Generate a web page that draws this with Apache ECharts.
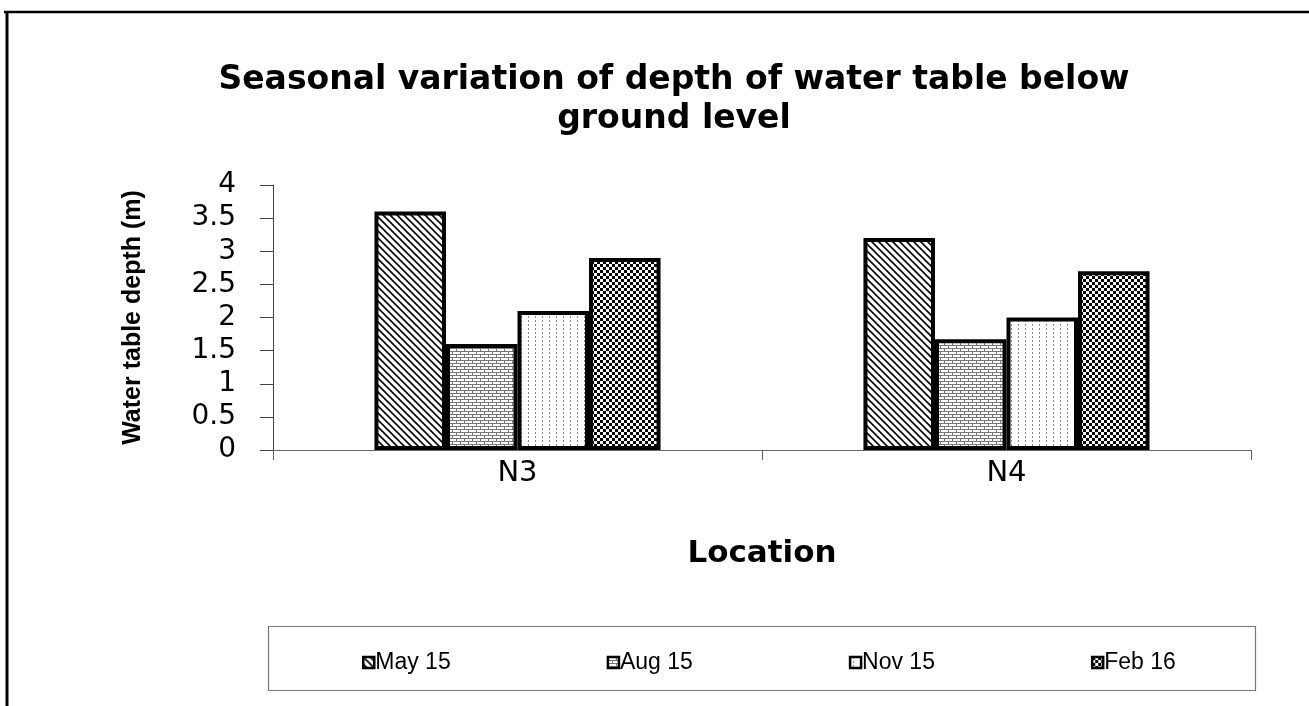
<!DOCTYPE html>
<html>
<head>
<meta charset="utf-8">
<script src="https://cdn.jsdelivr.net/npm/echarts@6/dist/echarts.min.js"></script>
<style>
html,body{margin:0;padding:0;background:#fff;}
#chart{width:1309px;height:706px;}
</style>
</head>
<body>
<div id="chart"></div>
<script>
const categories = ['N3', 'N4'];
const seriesNames = ['May 15', 'Aug 15', 'Nov 15', 'Feb 16'];
const may15 = [3.6, 3.2];
const aug15 = [1.6, 1.67];
const nov15 = [2.1, 2.0];
const feb16 = [2.9, 2.7];
const yTicks = { min: 0, max: 4, interval: 0.5 };

function makePattern(kind) {
  const c = document.createElement('canvas');
  const ctx = c.getContext('2d');
  if (kind === 'diag') {
    c.width = 7; c.height = 7;
    ctx.fillStyle = '#fff'; ctx.fillRect(0, 0, 7, 7);
    ctx.strokeStyle = '#000'; ctx.lineWidth = 1.6;
    ctx.beginPath();
    ctx.moveTo(-1, -1); ctx.lineTo(8, 8);
    ctx.moveTo(-1, 6); ctx.lineTo(1, 8);
    ctx.moveTo(6, -1); ctx.lineTo(8, 1);
    ctx.stroke();
  } else if (kind === 'brick') {
    c.width = 8; c.height = 6;
    ctx.fillStyle = '#fff'; ctx.fillRect(0, 0, 8, 6);
    ctx.fillStyle = '#777';
    ctx.fillRect(0, 0, 8, 1);
    ctx.fillRect(0, 3, 8, 1);
    ctx.fillRect(0, 0, 1, 3);
    ctx.fillRect(4, 3, 1, 3);
  } else if (kind === 'dots') {
    c.width = 7; c.height = 4;
    ctx.fillStyle = '#fff'; ctx.fillRect(0, 0, 7, 4);
    ctx.fillStyle = '#888';
    ctx.fillRect(3, 0, 1, 2);
  } else {
    c.width = 6; c.height = 6;
    ctx.fillStyle = '#fff'; ctx.fillRect(0, 0, 6, 6);
    ctx.fillStyle = '#000';
    ctx.fillRect(0, 0, 3, 3);
    ctx.fillRect(3, 3, 3, 3);
  }
  return { image: c, repeat: 'repeat' };
}

const patterns = [makePattern('diag'), makePattern('brick'), makePattern('dots'), makePattern('check')];
const dataArrays = [may15, aug15, nov15, feb16];

const chart = echarts.init(document.getElementById('chart'), null, { renderer: 'canvas' });

const series = seriesNames.map((name, i) => ({
  name: name,
  type: 'bar',
  data: dataArrays[i],
  barGap: '0%',
  barCategoryGap: '41.5%',
  itemStyle: { color: patterns[i], borderColor: '#000', borderWidth: 4 },
  emphasis: { disabled: true },
  animation: false
}));

chart.setOption({
  animation: false,
  backgroundColor: '#fff',
  title: {
    text: 'Seasonal variation of depth of water table below\nground level',
    left: 669,
    textAlign: 'center',
    top: 56,
    textStyle: {
      fontFamily: 'DejaVu Sans',
      fontWeight: 'bold',
      fontSize: 33,
      lineHeight: 39,
      color: '#000'
    }
  },
  grid: { left: 273, right: 58, top: 185, bottom: 256, containLabel: false },
  xAxis: {
    type: 'category',
    data: categories,
    name: 'Location',
    nameLocation: 'middle',
    nameGap: 88,
    nameTextStyle: { fontFamily: 'DejaVu Sans', fontWeight: 'bold', fontSize: 31, color: '#000' },
    axisLine: { lineStyle: { color: '#666', width: 1 } },
    axisTick: { show: true, length: 10, inside: false, lineStyle: { color: '#666' } },
    axisLabel: { fontFamily: 'DejaVu Sans', fontSize: 29, color: '#000', margin: 9 },
    splitLine: { show: false }
  },
  yAxis: {
    type: 'value',
    min: yTicks.min,
    max: yTicks.max,
    interval: yTicks.interval,
    name: 'Water table depth (m)',
    nameLocation: 'middle',
    nameRotate: 90,
    nameGap: 127,
    nameTextStyle: { fontFamily: 'Liberation Sans, Arial', fontWeight: 'bold', fontSize: 25, color: '#000' },
    axisLine: { show: true, lineStyle: { color: '#444', width: 1 } },
    axisTick: { show: true, length: 13, lineStyle: { color: '#444' } },
    axisLabel: { fontFamily: 'DejaVu Sans', fontSize: 28, color: '#000', margin: 37 },
    splitLine: { show: false }
  },
  legend: {
    data: seriesNames,
    left: 357,
    top: 646,
    itemWidth: 11,
    itemHeight: 11,
    itemGap: 156,
    icon: 'rect',
    itemStyle: { borderWidth: 2.5, borderColor: '#000' },
    textStyle: { fontFamily: 'Liberation Sans, Arial', fontSize: 23, color: '#000', padding: [0, 0, 0, -4] },
    selectedMode: false
  },
  graphic: [
    { type: 'line', shape: { x1: 4, y1: 12, x2: 1309, y2: 12 }, style: { stroke: '#000', lineWidth: 2.5 } },
    { type: 'line', shape: { x1: 7, y1: 12, x2: 7, y2: 706 }, style: { stroke: '#000', lineWidth: 3 } },
    { type: 'rect', shape: { x: 268.5, y: 626.5, width: 987, height: 64 }, style: { fill: 'none', stroke: '#777', lineWidth: 1.2 }, z: -1 }
  ],
  series: series
});
</script>
</body>
</html>
